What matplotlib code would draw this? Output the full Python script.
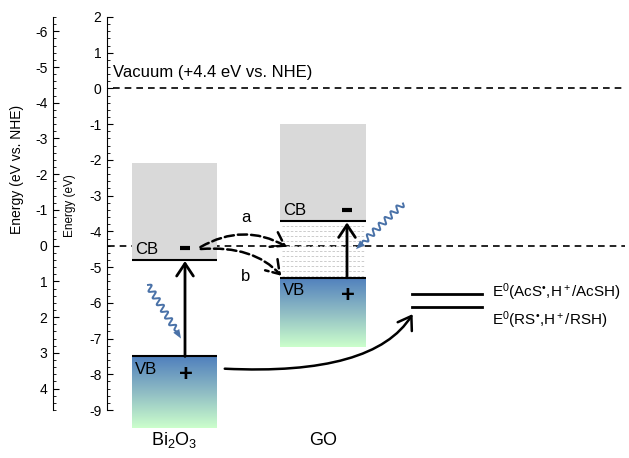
import numpy as np
import matplotlib
matplotlib.use("Agg")
import matplotlib.pyplot as plt
from matplotlib.patches import Rectangle, FancyArrowPatch, Polygon
from matplotlib.colors import LinearSegmentedColormap

plt.rcParams['font.family'] = ['Liberation Sans', 'DejaVu Sans']
plt.rcParams['mathtext.fontset'] = 'custom'
plt.rcParams['mathtext.rm'] = 'Liberation Sans'
plt.rcParams['mathtext.it'] = 'Liberation Sans:italic'
plt.rcParams['axes.unicode_minus'] = False

# band data (eV vs vacuum)
materials = ["Bi$_2$O$_3$", "GO"]
cb_edge = [-4.8, -3.72]
vb_edge = [-7.5, -5.3]
cb_top = [-2.08, -1.0]
vb_bottom = [-9.5, -7.25]

# redox levels
redox_names = ["E$^0$(AcS$^{\u2022}$,H$^+$/AcSH)", "E$^0$(RS$^{\u2022}$,H$^+$/RSH)"]
redox_levels = [-5.74, -6.13]

nhe_offset = -4.4
eV_ticks = list(range(-9, 3))
nhe_ticks = list(range(-6, 5))

# layout (x in pixel-like units)
box_x = [(132, 217), (280, 366)]
arrow_x = [185, 347]
redox_x = (412, 482)
PX = 35.73  # px per eV

W, H = 629, 458
fig = plt.figure(figsize=(W / 100, H / 100), dpi=100)
ax = fig.add_axes([107 / W, 48 / H, (W - 107) / W, 393 / H])
ax.set_xlim(107, W)
ax.set_ylim(-9, 2)
ax.set_autoscale_on(False)
for s in ['top', 'right', 'bottom']:
    ax.spines[s].set_visible(False)
ax.set_xticks([])
ax.set_yticks(eV_ticks)
ax.set_yticks(np.arange(-9, 2.01, 0.2), minor=True)
ax.tick_params(axis='y', which='major', direction='in', length=4, labelsize=10, pad=4)
ax.tick_params(axis='y', which='minor', direction='in', length=2)

# NHE axis
ax2 = fig.add_axes([53 / W, 48 / H, 0.0001, 393 / H])
ax2.set_ylim(-2 + nhe_offset, 9 + nhe_offset)
ax2.invert_yaxis()
for s in ['top', 'right', 'bottom']:
    ax2.spines[s].set_visible(False)
ax2.set_xticks([])
ax2.set_yticks(nhe_ticks)
ax2.set_yticks(np.arange(-6.4, 4.61, 0.2), minor=True)
ax2.tick_params(axis='y', which='major', direction='in', length=4, labelsize=10, pad=4)
ax2.tick_params(axis='y', which='minor', direction='in', length=2)
ax2.patch.set_visible(False)

fig.text(17 / W, 1 - 169 / H, "Energy (eV vs. NHE)", rotation=90, ha='center', va='center', fontsize=10)
fig.text(70 / W, 1 - 206 / H, "Energy (eV)", rotation=90, ha='center', va='center', fontsize=8.5)

dash = (0, (4, 3))
ax.plot([113, 625], [0, 0], color='black', lw=1.2, linestyle=dash, zorder=1)
ax.plot([108, 625], [nhe_offset, nhe_offset], color='black', lw=1.2, linestyle=dash, zorder=1)
ax.text(113, 0.45, "Vacuum (+4.4 eV vs. NHE)", fontsize=12, va='center', ha='left')

cmap = LinearSegmentedColormap.from_list("vb", ["#4f7fbd", "#8fbcc4", "#ccffcc"])
grad = np.linspace(0, 1, 256).reshape(-1, 1)

for i in range(2):
    x0, x1 = box_x[i]
    ax.add_patch(Rectangle((x0, cb_edge[i]), x1 - x0, cb_top[i] - cb_edge[i],
                           facecolor='#d9d9d9', edgecolor='none', zorder=2))
    ax.imshow(grad, extent=[x0, x1, vb_bottom[i], vb_edge[i]], aspect='auto',
              cmap=cmap, origin='upper', zorder=2, clip_on=False)
    ax.plot([x0, x1], [cb_edge[i], cb_edge[i]], color='black', lw=1.5, zorder=4, solid_capstyle='butt')
    ax.plot([x0, x1], [vb_edge[i], vb_edge[i]], color='black', lw=1.5, zorder=4, solid_capstyle='butt')
    ax.add_patch(FancyArrowPatch((arrow_x[i], vb_edge[i]), (arrow_x[i], cb_edge[i] - 0.03),
                                 arrowstyle='->,head_length=0.45,head_width=0.3', mutation_scale=20,
                                 lw=2, color='black', shrinkA=0, shrinkB=0, zorder=5))
    ax.text(x0 + 3, cb_edge[i] + 0.3, "CB", fontsize=12, va='center', ha='left', zorder=6)
    ax.text(x0 + 3, vb_edge[i] - 0.36, "VB", fontsize=12, va='center', ha='left', zorder=6)
    ax.plot([arrow_x[i] - 5, arrow_x[i] + 5], [cb_edge[i] + 0.33] * 2, color='black', lw=3,
            solid_capstyle='butt', zorder=6)
    ax.text(arrow_x[i] + 1, vb_edge[i] - 0.5, "+", fontsize=17, fontweight='bold',
            va='center', ha='center', zorder=6)
    ax.text((x0 + x1) / 2, -9.85, materials[i], fontsize=13, va='center', ha='center', clip_on=False)

# dashed mid-gap pattern in GO
x0, x1 = box_x[1]
for yy in np.arange(cb_edge[1] - 0.14, vb_edge[1], -0.14):
    ax.plot([x0 + 2, x1 - 2], [yy, yy], color='#c4c4c4', lw=0.6, linestyle=(0, (3, 2)), zorder=2)

# redox levels
for i in range(2):
    ax.plot(redox_x, [redox_levels[i]] * 2, color='black', lw=2, zorder=4)
ax.text(492, -5.71, redox_names[0], fontsize=11, va='center', ha='left')
ax.text(492, -6.48, redox_names[1], fontsize=11, va='center', ha='left')

# electron transfer arrows
ax.add_patch(FancyArrowPatch((198, -4.48), (289, -4.47), connectionstyle="arc3,rad=-0.3",
                             arrowstyle='->,head_length=0.45,head_width=0.3', mutation_scale=20,
                             lw=1.8, linestyle='--', color='black', zorder=7))
ax.add_patch(FancyArrowPatch((198, -4.5), (283, -5.3), connectionstyle="angle3,angleA=5,angleB=-50",
                             arrowstyle='->,head_length=0.45,head_width=0.3', mutation_scale=20,
                             lw=1.8, linestyle='--', color='black', zorder=7))
ax.text(246, -3.61, "a", fontsize=12, ha='center', va='center')
ax.text(246, -5.26, "b", fontsize=12, ha='center', va='center')

# hole transfer arrow
ax.add_patch(FancyArrowPatch((222, -7.84), (414, -6.25), connectionstyle="angle3,angleA=-3,angleB=60",
                             arrowstyle='->,head_length=0.45,head_width=0.3', mutation_scale=20,
                             lw=1.8, color='black', zorder=7))


def wavy(start, end, ncycles, amp=3.0):
    # start/end in (px, eV); build wave in pixel space
    sx, sy = start[0], start[1] * PX
    ex, ey = end[0], end[1] * PX
    L = np.hypot(ex - sx, ey - sy)
    ux, uy = (ex - sx) / L, (ey - sy) / L
    nx, ny = -uy, ux
    t = np.linspace(0, L - 8, 300)
    w = amp * np.sin(2 * np.pi * ncycles * t / (L - 8)) * np.minimum(1, (L - 8 - t) / 6)
    xs = sx + ux * t + nx * w
    ys = sy + uy * t + ny * w
    ax.plot(xs, ys / PX, color='#4a72a8', lw=1.4, zorder=8, clip_on=False)
    bx, by = sx + ux * (L - 9), sy + uy * (L - 9)
    head = [(ex, ey), (bx + nx * 3.5, by + ny * 3.5), (bx - nx * 3.5, by - ny * 3.5)]
    ax.add_patch(Polygon([(p[0], p[1] / PX) for p in head], closed=True,
                         facecolor='#4a72a8', edgecolor='none', zorder=8))


wavy((148, -5.5), (181, -7.0), 7)
wavy((403, -3.22), (356, -4.5), 7)

fig.savefig("out.png", dpi=100)
